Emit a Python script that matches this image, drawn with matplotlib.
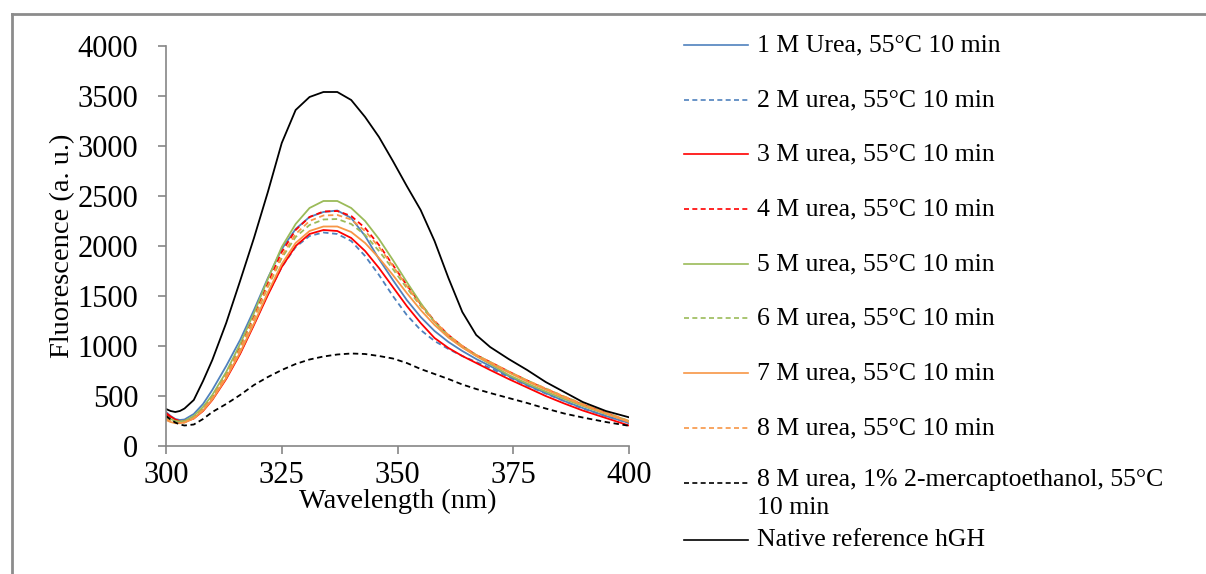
import matplotlib
matplotlib.use("Agg")
import matplotlib.pyplot as plt
from matplotlib.lines import Line2D

plt.rcParams['font.family'] = ['Liberation Serif', 'DejaVu Serif']

wavelength = [300, 301, 302, 303, 304, 306, 308, 310, 313, 316, 319, 322, 325, 328,
              331, 334, 337, 340, 343, 346, 349, 352, 355, 358, 361, 364, 367, 370,
              374, 378, 382, 386, 390, 395, 400]

urea_1M = [340, 300, 270, 260, 265, 320, 420, 560, 800, 1060, 1360, 1680, 1970, 2170,
           2290, 2340, 2355, 2280, 2100, 1870, 1660, 1460, 1290, 1150, 1040, 950, 870,
           800, 700, 610, 530, 450, 380, 300, 230]
urea_2M = [290, 265, 245, 235, 240, 280, 360, 470, 680, 930, 1220, 1520, 1790, 1990,
           2100, 2135, 2120, 2050, 1900, 1710, 1500, 1310, 1160, 1050, 970, 900, 840,
           780, 690, 605, 525, 450, 375, 300, 230]
urea_3M = [330, 295, 265, 245, 240, 275, 350, 460, 670, 920, 1210, 1510, 1790, 2000,
           2120, 2160, 2150, 2080, 1950, 1780, 1590, 1400, 1230, 1080, 980, 900, 830,
           760, 670, 585, 500, 425, 355, 280, 205]
urea_4M = [310, 280, 260, 250, 250, 290, 375, 490, 720, 990, 1300, 1630, 1940, 2160,
           2290, 2345, 2350, 2300, 2180, 2010, 1810, 1610, 1420, 1250, 1110, 1000, 910,
           840, 745, 655, 570, 490, 415, 330, 245]
urea_5M = [300, 270, 250, 245, 250, 300, 390, 510, 740, 1020, 1330, 1670, 1990, 2220,
           2380, 2450, 2450, 2380, 2250, 2070, 1860, 1640, 1430, 1240, 1090, 990, 900,
           820, 710, 625, 545, 470, 400, 320, 250]
urea_6M = [280, 255, 240, 235, 240, 285, 370, 485, 710, 970, 1270, 1590, 1880, 2090,
           2210, 2265, 2270, 2220, 2110, 1950, 1770, 1580, 1400, 1240, 1105, 1000, 910,
           840, 745, 655, 575, 495, 420, 335, 250]
urea_7M = [260, 240, 228, 228, 235, 275, 355, 465, 680, 935, 1225, 1535, 1820, 2030,
           2150, 2195, 2195, 2140, 2030, 1880, 1710, 1530, 1360, 1210, 1085, 985, 900,
           830, 735, 645, 565, 485, 410, 325, 240]
urea_8M = [270, 245, 230, 228, 235, 280, 365, 480, 705, 970, 1275, 1600, 1900, 2120,
           2250, 2305, 2310, 2265, 2150, 1990, 1800, 1600, 1410, 1245, 1110, 1000, 910,
           840, 745, 655, 575, 495, 420, 335, 250]
urea_8M_me = [300, 265, 235, 215, 205, 215, 270, 340, 420, 510, 610, 690, 760, 820,
              865, 895, 915, 925, 920, 900, 875, 830, 770, 720, 670, 615, 570, 530,
              480, 430, 375, 325, 285, 240, 202]
native = [370, 350, 340, 350, 375, 460, 650, 860, 1230, 1650, 2080, 2540, 3030, 3360,
          3490, 3540, 3540, 3460, 3290, 3090, 2850, 2600, 2360, 2050, 1680, 1340, 1110,
          990, 870, 760, 640, 540, 440, 350, 287]

labels = ["1 M Urea, 55°C 10 min", "2 M urea, 55°C 10 min", "3 M urea, 55°C 10 min",
          "4 M urea, 55°C 10 min", "5 M urea, 55°C 10 min", "6 M urea, 55°C 10 min",
          "7 M urea, 55°C 10 min", "8 M urea, 55°C 10 min",
          "8 M urea, 1% 2-mercaptoethanol, 55°C\n10 min", "Native reference hGH"]
series = [urea_1M, urea_2M, urea_3M, urea_4M, urea_5M, urea_6M, urea_7M, urea_8M,
          urea_8M_me, native]
colors = ["#4F81BD", "#4F81BD", "#FF0000", "#FF0000", "#9BBB59", "#9BBB59",
          "#F79646", "#F79646", "#000000", "#000000"]
styles = ["-", (0, (3, 2)), "-", (0, (3, 2)), "-", (0, (3, 2)), "-", (0, (3, 2)),
          (0, (3, 2)), "-"]

fig = plt.figure(figsize=(12.06, 5.74), dpi=100)
ax = fig.add_axes([166/1206, 1-446/574, (629-166)/1206, 400/574])

for y, c, ls in zip(series, colors, styles):
    ax.plot(wavelength, y, color=c, linestyle=ls, linewidth=1.3)

ax.set_xlim(300, 400)
ax.set_ylim(0, 4000)
ax.set_xticks([300, 325, 350, 375, 400])
ax.set_yticks(range(0, 4001, 500))
for s in ["top", "right"]:
    ax.spines[s].set_visible(False)
for s in ["left", "bottom"]:
    ax.spines[s].set_color("#868686")
    ax.spines[s].set_linewidth(1.2)
ax.tick_params(axis="both", colors="#868686", length=6, width=1.2, labelsize=22,
               labelcolor="black")
ax.tick_params(axis="y", pad=14)
ax.tick_params(axis="x", pad=5)
ax.set_xlabel("Wavelength (nm)", fontsize=20.5, labelpad=-1)
ax.set_ylabel("Fluorescence (a. u.)", fontsize=20.5, labelpad=2)

# manual legend
leg_y = [45, 100, 154, 209, 264, 318, 373, 428, 483, 540]
for i, (lab, c, ls) in enumerate(zip(labels, colors, styles)):
    yf = 1 - leg_y[i]/574
    fig.add_artist(Line2D([684/1206, 748/1206], [yf, yf], color=c, linestyle=ls,
                          linewidth=1.2, transform=fig.transFigure))
    if "\n" in lab:
        fig.text(757/1206, yf + 14/574, lab, fontsize=18.5, va="top", ha="left",
                 linespacing=1.35)
    else:
        fig.text(757/1206, yf, lab, fontsize=18.5, va="center", ha="left")

# outer border
fig.add_artist(Line2D([12/1206, 1.0], [1-14/574, 1-14/574], color="#8c8c8c",
                      linewidth=2, transform=fig.transFigure))
fig.add_artist(Line2D([12/1206, 12/1206], [0, 1-14/574], color="#8c8c8c",
                      linewidth=2, transform=fig.transFigure))

fig.savefig("out.png", dpi=100)
